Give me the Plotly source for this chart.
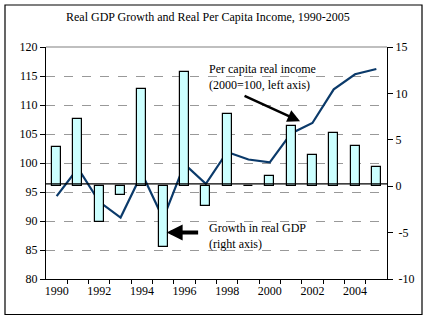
import plotly.graph_objects as go

years = list(range(1990, 2006))
gdp_growth = [4.2, 7.2, -3.9, -0.9, 10.5, -6.5, 12.3, -2.1, 7.8, 0.0,
              1.1, 6.5, 3.4, 5.7, 4.3, 2.1]
per_capita_income = [94.3, 99.1, 93.3, 90.6, 98.2, 90.4, 99.8, 96.4, 101.9,
                     100.6, 100.1, 105.1, 106.9, 112.7, 115.3, 116.2]
tick_years = [1990, 1992, 1994, 1996, 1998, 2000, 2002, 2004]
left_ticks = [80, 85, 90, 95, 100, 105, 110, 115, 120]
right_ticks = [-10, -5, 0, 5, 10, 15]

FONT = "Liberation Serif"
FS = 12
NAVY = "#0b3a6a"

fig = go.Figure()

fig.add_trace(go.Bar(
    x=years, y=gdp_growth, yaxis="y2", width=0.42,
    marker=dict(color="#ccffff", line=dict(color="black", width=1.2)),
    name="Growth in real GDP",
))
fig.add_trace(go.Scatter(
    x=years, y=per_capita_income, mode="lines",
    line=dict(color=NAVY, width=2.2),
    name="Per capita real income",
))

# L, R, T, B in pixels of the plotting area
L, R, T, B = 46, 387, 47, 279
W, H = R - L, B - T

def px_x(p):
    return (p - L) / W

def px_y(p):
    return (B - p) / H

shapes = [
    # outer frame of the chart
    dict(type="rect", xref="paper", yref="paper",
         x0=px_x(5), x1=px_x(422), y0=px_y(314.5), y1=px_y(5),
         line=dict(color="black", width=1.2), fillcolor="rgba(0,0,0,0)",
         layer="below"),
    # horizontal reference line near zero growth
    dict(type="line", xref="paper", yref="y2", x0=0, x1=1, y0=0.25, y1=0.25,
         line=dict(color="black", width=1.2)),
    # top border of the plotting area
    dict(type="line", xref="paper", yref="paper", x0=0, x1=1, y0=1, y1=1,
         line=dict(color="#808080", width=1.2)),
]

annotations = [
    dict(text="Per capita real income<br>(2000=100, left axis)",
         xref="paper", yref="paper", x=px_x(207), y=px_y(77),
         xanchor="left", yanchor="middle", align="left", showarrow=False,
         font=dict(family=FONT, size=FS, color="black")),
    dict(text="", xref="x", yref="y", x=2001.42, y=107.2,
         ax=-57, ay=-26, showarrow=True, arrowhead=2, arrowsize=1,
         arrowwidth=2.5, arrowcolor="black"),
    dict(text="Growth in real GDP<br>(right axis)",
         xref="paper", yref="paper", x=px_x(207), y=px_y(235.5),
         xanchor="left", yanchor="middle", align="left", showarrow=False,
         font=dict(family=FONT, size=FS, color="black")),
    dict(text="", xref="x", yref="y", x=1995.16, y=88.0,
         ax=33, ay=0, showarrow=True, arrowhead=2, arrowsize=0.8,
         arrowwidth=4, arrowcolor="black"),
    dict(text="Real GDP Growth and Real Per Capita Income, 1990-2005",
         xref="paper", yref="paper", x=px_x(208), y=px_y(17),
         xanchor="center", yanchor="middle", showarrow=False,
         font=dict(family=FONT, size=FS, color="black")),
]

fig.update_layout(
    width=428, height=321,
    margin=dict(l=L, r=428 - R, t=T, b=321 - B),
    paper_bgcolor="white", plot_bgcolor="white",
    showlegend=False,
    font=dict(family=FONT, size=FS, color="black"),
    bargap=0,
    xaxis=dict(
        range=[1989.5, 2005.5], tickvals=tick_years,
        ticktext=[str(y) for y in tick_years],
        ticks="", showgrid=False, zeroline=False,
        showline=True, linecolor="black", linewidth=1.2,
        minor=dict(tickvals=[y + 0.5 for y in years[:-1]], ticks="outside",
                   ticklen=4, tickcolor="black", showgrid=False),
        tickfont=dict(family=FONT, size=FS),
    ),
    yaxis=dict(
        range=[80, 120], tickvals=left_ticks, ticks="outside", ticklen=5,
        tickcolor="black", showline=True, linecolor="black", linewidth=1.2,
        showgrid=True, gridcolor="#999999", griddash="dash", gridwidth=1,
        zeroline=False, tickfont=dict(family=FONT, size=FS),
    ),
    yaxis2=dict(
        range=[-10, 15], tickvals=right_ticks, overlaying="y", side="right",
        ticks="outside", ticklen=5, tickcolor="black",
        showline=True, linecolor="black", linewidth=1.2,
        showgrid=False, zeroline=False,
        ticktext=[" -10", " -5", "0", "5", "10", "15"],
        tickfont=dict(family=FONT, size=FS),
    ),
    shapes=shapes,
    annotations=annotations,
)

fig.write_html("out.html")
